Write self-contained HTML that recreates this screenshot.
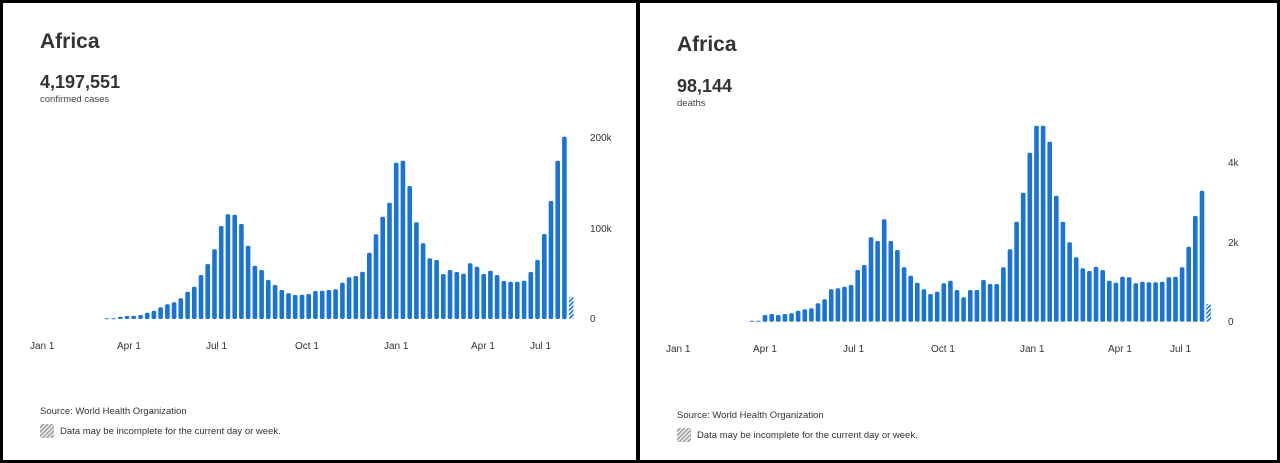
<!DOCTYPE html>
<html><head><meta charset="utf-8"><style>
html,body{margin:0;padding:0;background:#fff;}
svg{display:block;font-family:"Liberation Sans",Arial,sans-serif;}
</style></head><body>
<svg id="s" width="1280" height="463" viewBox="0 0 1280 463" xmlns="http://www.w3.org/2000/svg">
<defs>
<pattern id="h" width="3" height="3" patternUnits="userSpaceOnUse" patternTransform="rotate(45)">
<rect width="3" height="3" fill="#fff"/><rect width="1.6" height="3" fill="#1a73d9"/></pattern>
<pattern id="g" width="3" height="3" patternUnits="userSpaceOnUse" patternTransform="rotate(45)">
<rect width="3" height="3" fill="#eee"/><rect width="1.4" height="3" fill="#999"/></pattern>
</defs>
<rect x="0" y="0" width="1280" height="463" fill="#fff"/>
<rect x="1.5" y="1.5" width="1277" height="460" fill="none" stroke="#000" stroke-width="3"/>
<rect x="636" y="0" width="4" height="463" fill="#000"/>
<g fill="#333">
<text x="40" y="48" font-size="21" font-weight="bold">Africa</text>
<text x="40" y="88" font-size="18" font-weight="bold">4,197,551</text>
<text x="40" y="102" font-size="9.5" fill="#444">confirmed cases</text>
<text x="677" y="51" font-size="21" font-weight="bold">Africa</text>
<text x="677" y="92" font-size="18" font-weight="bold">98,144</text>
<text x="677" y="106" font-size="9.5" fill="#444">deaths</text>
</g>
<g font-size="10" fill="#333">
<text x="590" y="141">200k</text><text x="590" y="232">100k</text><text x="590" y="322">0</text>
<text x="1228" y="166">4k</text><text x="1228" y="246">2k</text><text x="1228" y="325">0</text>
<text x="30" y="349">Jan 1</text><text x="117" y="349">Apr 1</text><text x="206" y="349">Jul 1</text><text x="295" y="349">Oct 1</text><text x="384" y="349">Jan 1</text><text x="471" y="349">Apr 1</text><text x="530" y="349">Jul 1</text>
<text x="666" y="352">Jan 1</text><text x="753" y="352">Apr 1</text><text x="843" y="352">Jul 1</text><text x="931" y="352">Oct 1</text><text x="1020" y="352">Jan 1</text><text x="1108" y="352">Apr 1</text><text x="1170" y="352">Jul 1</text>
<text x="40" y="414" font-size="9.5">Source:  World Health Organization</text>
<text x="60" y="434" font-size="9.5">Data may be incomplete for the current day or week.</text>
<text x="677" y="418" font-size="9.5">Source:  World Health Organization</text>
<text x="697" y="438" font-size="9.5">Data may be incomplete for the current day or week.</text>
</g>
<rect x="40" y="424" width="14" height="14" fill="url(#g)"/>
<rect x="677" y="428" width="14" height="14" fill="url(#g)"/>
<g id="bars"></g>
</svg>
<script>
var L=[595,595,590,588,587,585,578,572,562,553,547,535,515,500,465,432,388,318,283,284,312,377,437,450,480,495,510,520,525,524,522,513,512,510,508,488,472,468,455,398,343,290,248,128,122,198,307,370,415,420,462,450,456,461,430,440,462,452,465,483,485,485,482,456,420,342,243,122,50,530];
var R=[632,632,615,612,615,612,610,602,598,595,580,568,538,535,530,525,480,465,382,393,328,393,420,472,497,518,538,552,545,520,512,540,562,540,540,510,522,522,472,418,335,248,128,47,47,95,257,335,397,442,475,483,470,480,512,518,500,502,520,515,517,517,515,502,500,472,410,318,242,582];
var g=document.getElementById('bars'),s='';
function draw(a,x0,p,y0,base,b0){for(var i=0;i<a.length;i++){var top=y0+a[i]/3,bb=y0+b0/3;var h=Math.max(bb-top,1);var x=x0+i*p;
var last=i==a.length-1;s+='<rect x="'+x.toFixed(1)+'" y="'+top.toFixed(1)+'" width="4.6" height="'+h.toFixed(1)+'" rx="1.5" fill="'+(last?'url(#h)':'#1a73d9')+'"/>';}}
draw(L,104.5,6.73,120,0,597);
draw(R,749.5,6.62,110,0,635);
g.innerHTML=s;
</script>
</body></html>
